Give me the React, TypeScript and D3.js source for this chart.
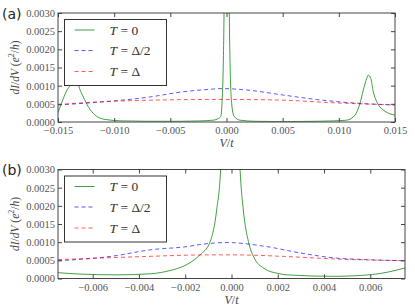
import React, { useEffect, useRef } from 'react';
import * as d3 from 'd3';

const W = 415;
const H = 307;

// panel (a): full bias window
const greenA: [number, number][] = [
  [-0.015, 0.00026], [-0.0147, 0.00051], [-0.0142, 0.00088], [-0.0139, 0.00104],
  [-0.0137, 0.0013], [-0.01355, 0.0014], [-0.0134, 0.0013], [-0.0132, 0.00104],
  [-0.01275, 0.00069], [-0.0123, 0.00042], [-0.0117, 0.00019], [-0.0108, 0.00007],
  [-0.0093, 0.00003], [-0.007, 0.00002], [-0.004, 0.00002], [-0.0024, 0.00003],
  [-0.0012, 0.00005], [-0.0007, 0.0001], [-0.00052, 0.00015], [-0.0004, 0.00051],
  [-0.00028, 0.0017], [-0.00022, 0.003], [-0.00015, 0.006], [0.00002, 0.02],
  [0.00018, 0.006], [0.00025, 0.003], [0.00031, 0.0017], [0.00046, 0.00051],
  [0.00067, 0.00016], [0.0012, 0.00005], [0.0025, 0.00002], [0.005, 0.00001],
  [0.008, 0.00002], [0.0095, 0.00003], [0.0107, 0.00005], [0.01144, 0.00019],
  [0.01188, 0.00051], [0.01218, 0.00088], [0.01248, 0.0012], [0.01262, 0.00129],
  [0.01284, 0.0012], [0.01307, 0.00083], [0.01337, 0.00056], [0.01396, 0.00033],
  [0.015, 0.00019],
];
const blueA: [number, number][] = [
  [-0.015, 0.00047], [-0.0125, 0.00052], [-0.0104, 0.00057], [-0.0068, 0.00069],
  [-0.0039, 0.00083], [-0.0015, 0.0009], [-0.0004, 0.00092], [0.0018, 0.00088],
  [0.0051, 0.00074], [0.008, 0.00062], [0.011, 0.00053], [0.015, 0.00047],
];
const redA: [number, number][] = [
  [-0.015, 0.00048], [-0.011, 0.00056], [-0.0068, 0.0006], [-0.0015, 0.00062],
  [0.0006, 0.00062], [0.0051, 0.0006], [0.0095, 0.00053], [0.015, 0.00047],
];

// panel (b): zoom around zero bias
const greenB: [number, number][] = [
  [-0.0075, 0.00016], [-0.0065, 0.00012], [-0.005, 0.0001], [-0.0035, 0.00013],
  [-0.00266, 0.00022], [-0.002, 0.00036], [-0.0016, 0.00052], [-0.00136, 0.00065],
  [-0.00093, 0.001], [-0.00064, 0.00189], [-0.00047, 0.003], [-0.0003, 0.006],
  [-0.00005, 0.03], [0.0002, 0.006], [0.00037, 0.003], [0.00051, 0.00189],
  [0.00073, 0.00102], [0.00097, 0.00058], [0.0014, 0.00028], [0.002, 0.00014],
  [0.0024, 0.0001], [0.0044, 0.00006], [0.0061, 0.00011], [0.0075, 0.00029],
];
const blueB: [number, number][] = [
  [-0.0075, 0.00049], [-0.0052, 0.00061], [-0.0035, 0.00079], [-0.0019, 0.00088],
  [-0.0013, 0.00094], [-0.0002, 0.00099], [0.0015, 0.00088], [0.003, 0.0007],
  [0.0044, 0.00057], [0.0058, 0.00052], [0.0075, 0.00049],
];
const redB: [number, number][] = [
  [-0.0075, 0.00052], [-0.004, 0.0006], [-0.001, 0.00065], [0.0002, 0.00065],
  [0.0022, 0.00061], [0.0044, 0.00054], [0.0075, 0.00049],
];

const yTicks = [0, 0.0005, 0.001, 0.0015, 0.002, 0.0025, 0.003];
const xTicksA = [-0.015, -0.01, -0.005, 0, 0.005, 0.01, 0.015];
const xTicksB = [-0.006, -0.004, -0.002, 0, 0.002, 0.004, 0.006];
const legendLabels = ['0', 'Δ/2', 'Δ'];

const colors = ['#008000', '#0000ff', '#ff0000'];
const opac = [0.75, 0.65, 0.65];
const serif = 'Liberation Serif, serif';

function Panel({ id, label, left, right, top, bottom, xDomain, xTicks, series }) {
  const xRef = useRef(null);
  const yRef = useRef(null);
  const tRef = useRef(null);
  const rRef = useRef(null);

  const x = d3.scaleLinear().domain(xDomain).range([left, right]);
  const y = d3.scaleLinear().domain([0, 0.003]).range([bottom, top]);
  const line = d3
    .line<[number, number]>()
    .x(d => x(d[0]))
    .y(d => y(d[1]))
    .curve(d3.curveMonotoneX);

  useEffect(() => {
    const xf = d3.format('.3f');
    const yf = d3.format('.4f');
    const style = sel => {
      sel.attr('font-family', serif).attr('font-size', 10.5);
      sel.select('.domain').remove();
      sel.selectAll('line').attr('stroke', '#444');
      sel.selectAll('text').attr('fill', '#555');
    };
    d3.select(xRef.current)
      .call(d3.axisBottom(x).tickValues(xTicks).tickFormat(xf).tickSizeInner(-4).tickSizeOuter(0).tickPadding(5))
      .call(style);
    d3.select(yRef.current)
      .call(d3.axisLeft(y).tickValues(yTicks).tickFormat(yf).tickSizeInner(-4).tickSizeOuter(0).tickPadding(3))
      .call(style);
    d3.select(tRef.current)
      .call(d3.axisTop(x).tickValues(xTicks).tickFormat(() => '').tickSizeInner(-4).tickSizeOuter(0))
      .call(style);
    d3.select(rRef.current)
      .call(d3.axisRight(y).tickValues(yTicks).tickFormat(() => '').tickSizeInner(-4).tickSizeOuter(0))
      .call(style);
  });

  const lx = left + 6.5;
  const ly = top + 6.5;
  const rows = [ly + 10.5, ly + 31, ly + 52];

  return (
    <g>
      <clipPath id={id}>
        <rect x={left} y={top} width={right - left} height={bottom - top} />
      </clipPath>
      <g clipPath={`url(#${id})`}>
        {series.map((s, i) => (
          <path
            key={i}
            d={line(s)}
            fill="none"
            stroke={colors[i]}
            strokeOpacity={opac[i]}
            strokeWidth={1}
            strokeDasharray={i === 0 ? null : '4,3'}
          />
        ))}
      </g>
      <rect x={left} y={top} width={right - left} height={bottom - top} fill="none" stroke="#444" strokeWidth={1} />
      <g ref={xRef} transform={`translate(0,${bottom})`} />
      <g ref={yRef} transform={`translate(${left},0)`} />
      <g ref={tRef} transform={`translate(0,${top})`} />
      <g ref={rRef} transform={`translate(${right},0)`} />

      <rect x={lx} y={ly} width={102} height={66} fill="white" stroke="#333" strokeWidth={1} />
      {legendLabels.map((t, i) => (
        <g key={i}>
          <line
            x1={lx + 10}
            x2={lx + 30}
            y1={rows[i]}
            y2={rows[i]}
            stroke={colors[i]}
            strokeOpacity={opac[i]}
            strokeWidth={1}
            strokeDasharray={i === 0 ? null : '4,3'}
          />
          <text x={lx + 45} y={rows[i] + 4.5} fontFamily={serif} fontSize={13.5} fill="#333">
            <tspan fontStyle="italic">T</tspan> = {t}
          </text>
        </g>
      ))}

      <text x={2} y={top + 5.5} fontFamily="DejaVu Sans, sans-serif" fontSize={14} fill="#222">
        {label}
      </text>
      <text
        transform={`translate(19,${(top + bottom) / 2}) rotate(-90)`}
        textAnchor="middle"
        fontFamily={serif}
        fontSize={11.5}
        fill="#444"
      >
        <tspan fontStyle="italic">dI</tspan>/<tspan fontStyle="italic">dV</tspan> (
        <tspan fontStyle="italic">e</tspan>
        <tspan fontSize={8} dy={-5}>2</tspan>
        <tspan dy={5}>/</tspan>
        <tspan fontStyle="italic">h</tspan>)
      </text>
      <text x={(left + right) / 2} y={bottom + 25} textAnchor="middle" fontFamily={serif} fontSize={12} fill="#444">
        <tspan fontStyle="italic">V</tspan>/<tspan fontStyle="italic">t</tspan>
      </text>
    </g>
  );
}

export default function App() {
  return (
    <svg width={W} height={H} style={{ position: 'absolute', left: 0, top: 0, background: 'white' }}>
      <Panel
        id="clipA"
        label="(a)"
        left={58}
        right={395}
        top={13}
        bottom={122}
        xDomain={[-0.015, 0.015]}
        xTicks={xTicksA}
        series={[greenA, blueA, redA]}
      />
      <Panel
        id="clipB"
        label="(b)"
        left={58}
        right={405}
        top={169.5}
        bottom={278.5}
        xDomain={[-0.0075, 0.0075]}
        xTicks={xTicksB}
        series={[greenB, blueB, redB]}
      />
    </svg>
  );
}
